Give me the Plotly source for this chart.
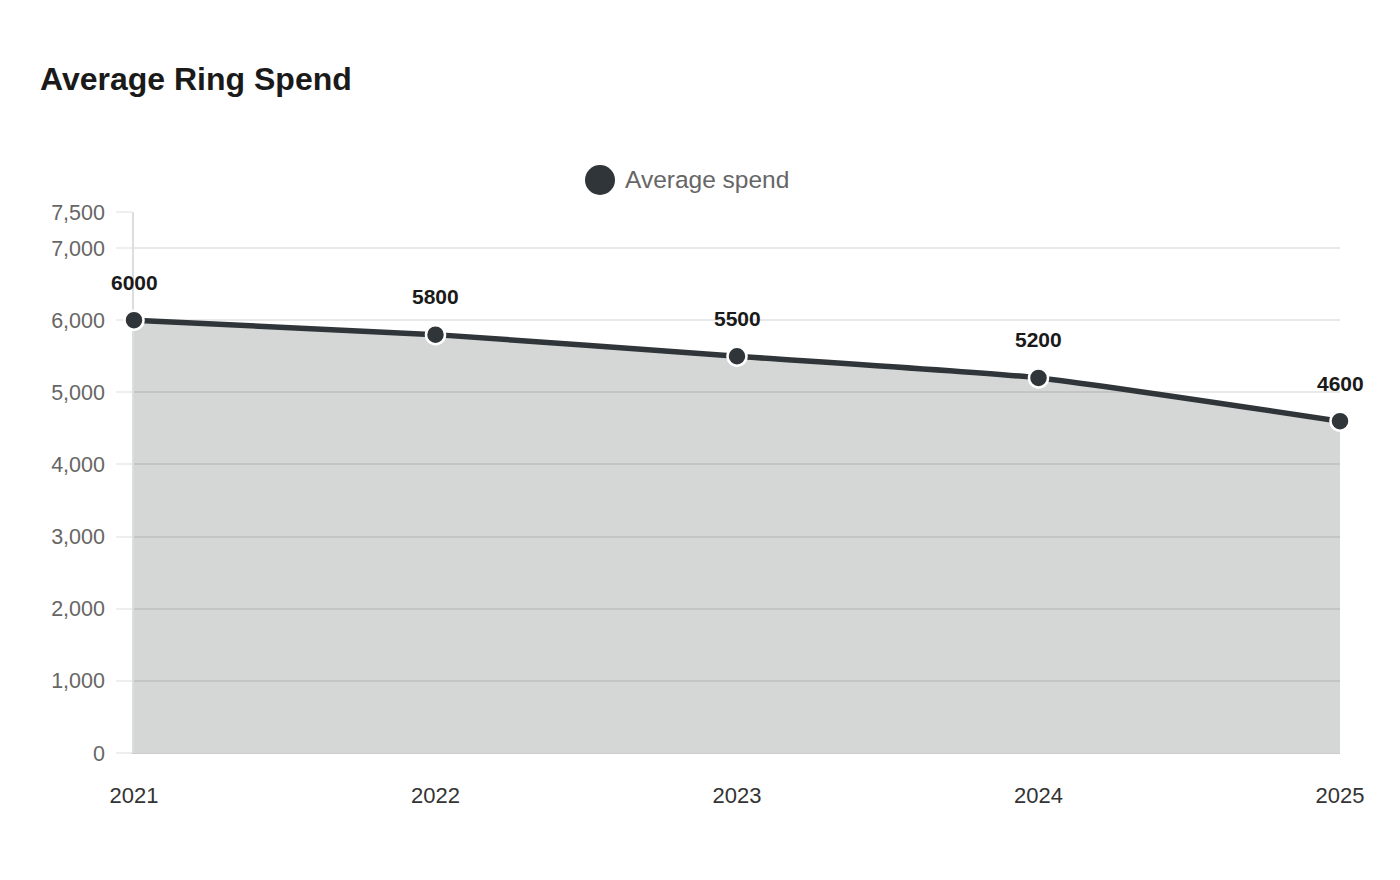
import plotly.graph_objects as go

# chart data
years = ["2021", "2022", "2023", "2024", "2025"]
avg_spend = [6000, 5800, 5500, 5200, 4600]
y_ticks = [0, 1000, 2000, 3000, 4000, 5000, 6000, 7000, 7500]
series_name = "Average spend"

line_col = "#2f3538"
font_fam = "Liberation Sans, Arial, sans-serif"

# plot area in figure pixels (page adds 8px body margin)
L, R, T, B = 126, 68, 204, 135
W, H = 1400, 880
pw, ph = W - L - R, H - T - B

def px_x(x):
    return (x - L) / pw

def px_y(y):
    return (H - B - y) / ph

fig = go.Figure()

fig.add_trace(go.Scatter(
    x=years, y=avg_spend,
    mode="lines+markers",
    name=series_name,
    line=dict(color=line_col, width=5.5, shape="spline", smoothing=0.5),
    marker=dict(size=19, color=line_col, line=dict(color="white", width=2.5)),
    fill="tozeroy", fillcolor="rgba(47,53,56,0.2)",
    cliponaxis=False,
    showlegend=False,
))

# value labels above each point
for i, v in enumerate(avg_spend):
    fig.add_annotation(x=i, y=v, text="<b>%d</b>" % v, showarrow=False,
                       yshift=38, font=dict(size=21, color="#1a1a1a", family=font_fam))

# legend drawn by hand so the marker can be large
fig.add_shape(type="circle", xref="paper", yref="paper",
              x0=px_x(577), x1=px_x(607), y0=px_y(187), y1=px_y(157),
              fillcolor=line_col, line=dict(width=0))
fig.add_annotation(xref="paper", yref="paper", x=px_x(615), y=px_y(172),
                   xanchor="left", yanchor="middle", showarrow=False,
                   text=series_name, font=dict(size=24.5, color="#666666", family=font_fam))

fig.update_layout(
    width=W, height=H,
    margin=dict(l=L, r=R, t=T, b=B),
    paper_bgcolor="white", plot_bgcolor="white",
    font=dict(family=font_fam, color="#666666"),
    showlegend=False,
    title=dict(text="<b>Average Ring Spend</b>", x=32 / W, xanchor="left",
               y=1 - 71 / H, yanchor="middle",
               font=dict(size=32, color="#1a1a1a", family=font_fam)),
    xaxis=dict(type="category", range=[0, 4], showgrid=False,
               showline=True, linecolor="#cccccc", linewidth=1,
               ticks="", tickfont=dict(size=22, color="#333333"),
               ticklabelstandoff=23),
    yaxis=dict(range=[0, 7500], tickvals=y_ticks, tickformat=",",
               showgrid=True, gridcolor="#e9e9e9", gridwidth=1.5,
               zeroline=False, showline=True, linecolor="#dddddd", linewidth=1.5,
               ticks="outside", ticklen=16, tickcolor="#eeeeee", tickwidth=1.5,
               ticklabelstandoff=7,
               tickfont=dict(size=21.5, color="#666666"), layer="below traces"),
)

fig.write_html("out.html")
